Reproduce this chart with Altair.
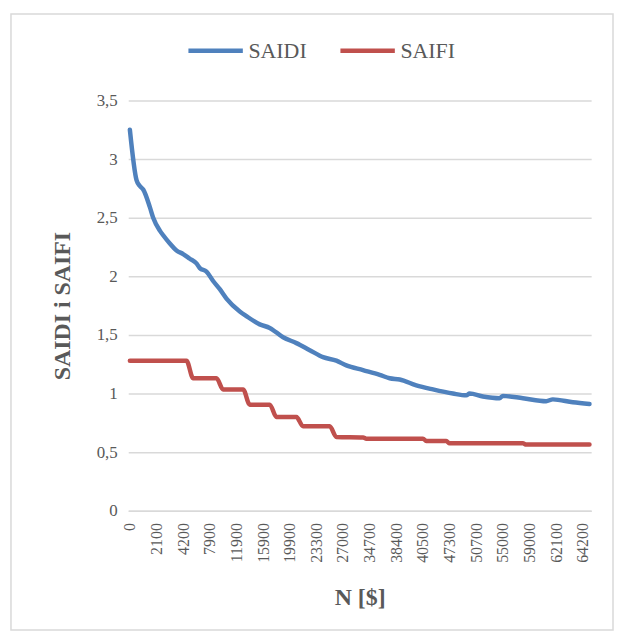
import altair as alt
import pandas as pd

# ---- data ----
x_labels = ["0", "2100", "4200", "7900", "11900", "15900", "19900", "23300", "27000",
            "34700", "38400", "40500", "47300", "50700", "55000", "59000", "62100", "64200"]
label_step = 8          # one label every 8 categories
n_categories = 139      # category slots on the axis

saidi_idx = [0, 2, 3, 4, 6, 7, 9, 10, 12, 14, 16, 18, 20, 21, 23, 25, 27, 29, 33, 35,
             39, 42, 46, 50, 54, 58, 62, 65, 70, 75, 78, 81, 86, 91, 97, 101, 102, 106, 111, 112,
             118, 125, 127, 133, 138]
saidi_val = [3.25, 2.82, 2.77, 2.74, 2.59, 2.50, 2.39, 2.35, 2.28, 2.22,
             2.19, 2.15, 2.11, 2.07, 2.04, 1.96, 1.89, 1.81, 1.70, 1.66,
             1.59, 1.56, 1.48, 1.43, 1.37, 1.31, 1.28, 1.24, 1.20, 1.16,
             1.13, 1.12, 1.07, 1.035, 1.0, 0.985, 1.0, 0.975, 0.96, 0.98,
             0.96, 0.935, 0.95, 0.925, 0.91]

saifi_idx = [0, 17, 19, 26, 28, 34, 36, 42, 44, 50, 52, 60, 62, 70, 71, 88, 89, 95, 96, 118, 119, 138]
saifi_val = [1.28, 1.28, 1.13, 1.13, 1.035, 1.035, 0.905, 0.905, 0.80, 0.80, 0.72, 0.72,
             0.63, 0.625, 0.615, 0.615, 0.595, 0.595, 0.575, 0.575, 0.565, 0.565]

series_names = ["SAIDI", "SAIFI"]
series_colors = ["#4F81BD", "#C0504D"]

df = pd.concat([
    pd.DataFrame({"idx": saidi_idx, "value": saidi_val, "series": "SAIDI"}),
    pd.DataFrame({"idx": saifi_idx, "value": saifi_val, "series": "SAIFI"}),
])

FONT = "Liberation Serif, Times New Roman, serif"
GRAY = "#595959"
GRID = "#D9D9D9"

W, H = 466, 413

label_expr = "[" + ",".join("'%s'" % s for s in x_labels) + "][round(datum.value/%d)]" % label_step
tick_vals = [i * label_step for i in range(len(x_labels))]

lines = alt.Chart(df).mark_line(
    strokeWidth=4.5, interpolate="monotone", strokeCap="round", strokeJoin="round"
).encode(
    x=alt.X("idx:Q",
            scale=alt.Scale(domain=[-0.5, n_categories - 0.5], nice=False, zero=False),
            axis=alt.Axis(values=tick_vals, labelExpr=label_expr, labelAngle=-90,
                          labelFont=FONT, labelFontSize=16, labelColor=GRAY,
                          labelPadding=12, ticks=False, grid=False, domain=True,
                          domainColor=GRID, domainWidth=1.5,
                          title="N [$]", titleFont=FONT, titleFontSize=24,
                          titleFontWeight="bold", titleColor=GRAY, titlePadding=23,
                          labelOverlap=False)),
    y=alt.Y("value:Q",
            scale=alt.Scale(domain=[0, 3.5], nice=False),
            axis=alt.Axis(values=[0, 0.5, 1, 1.5, 2, 2.5, 3, 3.5],
                          labelExpr="replace(toString(datum.value), '.', ',')",
                          labelFont=FONT, labelFontSize=17, labelColor=GRAY,
                          labelPadding=11, ticks=False, domain=False,
                          grid=True, gridColor=GRID, gridWidth=1.5,
                          title="SAIDI i SAIFI", titleFont=FONT, titleFontSize=24,
                          titleFontWeight="bold", titleColor=GRAY, titlePadding=22)),
    color=alt.Color("series:N",
                    scale=alt.Scale(domain=series_names, range=series_colors),
                    legend=alt.Legend(orient="none", legendX=58, legendY=-80,
                                      direction="horizontal", title=None,
                                      symbolType="stroke", symbolSize=3000,
                                      symbolStrokeWidth=4.5, labelFont=FONT,
                                      labelFontSize=22, labelColor=GRAY,
                                      columnPadding=24, labelOffset=3)),
)

border = alt.Chart(pd.DataFrame({"a": [0]})).mark_rect(
    fill="white", fillOpacity=0, stroke=GRID, strokeWidth=1.5
).encode(
    x=alt.value(-118), x2=alt.value(488), y=alt.value(-87), y2=alt.value(533)
)

chart = alt.layer(border, lines).properties(
    width=W, height=H,
    autosize=alt.AutoSizeParams(type="none"),
    padding={"left": 121, "top": 91, "right": 23, "bottom": 124},
).configure_view(stroke=None)

chart.save("out.html", embed_options={"renderer": "svg", "actions": False})
